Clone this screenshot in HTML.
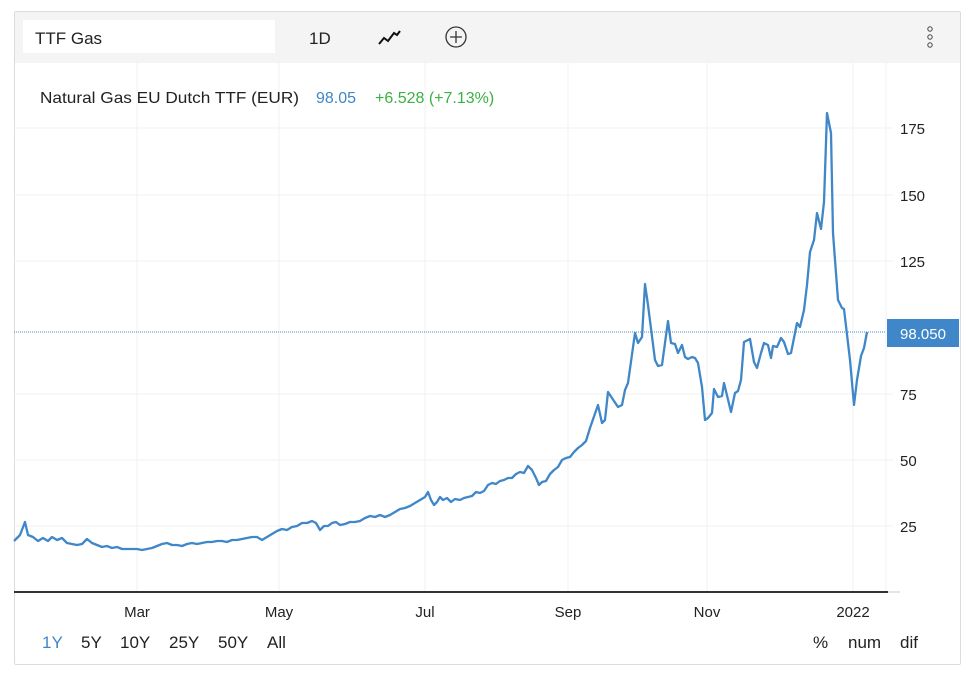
<!DOCTYPE html>
<html><head><meta charset="utf-8"><style>
body{margin:0;background:#fff;width:975px;height:677px;overflow:hidden;font-family:"Liberation Sans",sans-serif;}
.card{position:absolute;left:14px;top:11px;width:947px;height:654px;border:1px solid #dcdcdc;box-sizing:border-box;border-radius:2px;}
.bar{position:absolute;left:0;top:0;width:945px;height:51px;background:#f4f4f4;}
.t{position:absolute;font-size:16px;color:#222;white-space:nowrap;}
</style></head><body>
<div class="card"><div class="bar">
<div style="position:absolute;left:8px;top:8px;width:252px;height:33px;background:#fff"></div>
</div></div>
<div class="t" style="left:35px;top:29px;font-size:17px">TTF Gas</div>
<div class="t" style="left:309px;top:29px;font-size:17px">1D</div>
<svg style="position:absolute;left:0;top:0" width="975" height="677">
<polyline points="379,44 384,38 388,41 394,33 397,35 400,31" fill="none" stroke="#111" stroke-width="2"/>
<circle cx="456" cy="37" r="10" fill="none" stroke="#333" stroke-width="1.3"/>
<path d="M456 31v12M450 37h12" stroke="#333" stroke-width="1.3"/>
<circle cx="930" cy="29" r="2.2" fill="none" stroke="#444"/><circle cx="930" cy="37" r="2.2" fill="none" stroke="#444"/><circle cx="930" cy="45" r="2.2" fill="none" stroke="#444"/>
<g stroke="#f0f0f3" stroke-width="1">
<line x1="137" y1="62" x2="137" y2="592"/><line x1="279" y1="62" x2="279" y2="592"/><line x1="425" y1="62" x2="425" y2="592"/><line x1="568" y1="62" x2="568" y2="592"/><line x1="707" y1="62" x2="707" y2="592"/><line x1="853" y1="62" x2="853" y2="592"/><line x1="886" y1="62" x2="886" y2="592"/>
<line x1="14" y1="128" x2="893" y2="128"/><line x1="14" y1="195" x2="893" y2="195"/><line x1="14" y1="261" x2="893" y2="261"/><line x1="14" y1="394" x2="893" y2="394"/><line x1="14" y1="460" x2="893" y2="460"/><line x1="14" y1="526" x2="893" y2="526"/>
</g>
<line x1="14" y1="592" x2="888" y2="592" stroke="#333" stroke-width="2"/>
<line x1="888" y1="592" x2="900" y2="592" stroke="#e5e5e5" stroke-width="2"/>
<line x1="14" y1="332" x2="886" y2="332" stroke="#4a88c7" stroke-width="1" stroke-dasharray="1,1"/>
<polyline fill="none" stroke="#3f87c8" stroke-width="2.3" stroke-linejoin="round" points="14,541 20,535 25,522 28,535 33,537 38,541 43,538 48,541 52,537 57,540 62,538 67,543 72,544 77,545 82,544 87,539 92,543 97,545 102,547 107,546 112,548 117,547 122,549 127,549 132,549 137,549 142,550 147,549 152,548 157,546 162,544 167,543 172,545 177,545 182,546 187,544 192,543 197,544 202,543 207,542 212,542 217,541 222,541 227,542 232,540 237,540 242,539 247,538 252,537 257,537 262,540 267,537 272,534 277,531 282,529 287,530 292,527 297,526 302,523 307,523 312,521 316,523 320,530 324,526 328,526 332,523 336,522 340,525 345,524 350,522 355,522 360,521 365,518 370,516 375,517 380,515 385,517 390,515 395,512 400,509 405,508 410,506 415,503 420,500 425,497 428,492 431,500 434,505 437,502 440,497 443,500 447,498 451,502 455,499 460,500 464,498 468,497 472,496 476,492 480,493 484,491 488,485 492,483 496,484 500,481 504,480 508,478 512,478 516,474 520,472 524,473 528,466 532,470 536,478 539,485 542,482 546,481 550,474 554,470 558,467 562,460 566,458 570,457 574,452 578,448 582,445 586,441 590,428 598,405 602,423 605,420 608,392 618,407 622,405 625,390 628,383 635,333 638,343 642,337 645,284 648,305 655,360 658,366 662,365 668,321 671,343 675,344 678,353 682,345 685,357 688,359 692,357 695,358 698,363 702,387 705,420 708,418 712,413 714,389 718,397 722,396 724,383 731,412 735,393 738,391 741,380 744,342 750,339 754,362 757,368 761,353 764,343 768,345 771,358 773,346 777,347 781,338 784,342 788,354 791,353 797,323 800,327 804,310 807,285 810,252 814,240 817,213 821,229 824,202 827,113 831,133 833,233 838,300 842,308 844,309 850,360 854,405 857,380 861,356 864,348 867,332"/>
<rect x="887" y="319" width="72" height="28" fill="#3f87c8"/>
<text x="923" y="339" fill="#fff" font-size="15" text-anchor="middle" font-family="Liberation Sans">98.050</text>
<g font-family="Liberation Sans" font-size="15" fill="#222">
<text x="900" y="134">175</text><text x="900" y="201">150</text><text x="900" y="267">125</text><text x="900" y="400">75</text><text x="900" y="466">50</text><text x="900" y="532">25</text>
<text x="137" y="617" text-anchor="middle">Mar</text><text x="279" y="617" text-anchor="middle">May</text><text x="425" y="617" text-anchor="middle">Jul</text><text x="568" y="617" text-anchor="middle">Sep</text><text x="707" y="617" text-anchor="middle">Nov</text><text x="853" y="617" text-anchor="middle">2022</text>
</g>
<g font-family="Liberation Sans" font-size="17" fill="#222">
<text x="42" y="648" fill="#3f87c8">1Y</text><text x="81" y="648">5Y</text><text x="120" y="648">10Y</text><text x="169" y="648">25Y</text><text x="218" y="648">50Y</text><text x="267" y="648">All</text>
<text x="813" y="648">%</text><text x="848" y="648">num</text><text x="900" y="648">dif</text>
</g>
<g font-family="Liberation Sans" font-size="16">
<text x="40" y="103" fill="#222" textLength="259" lengthAdjust="spacingAndGlyphs">Natural Gas EU Dutch TTF (EUR)</text>
<text x="316" y="103" fill="#3f87c8">98.05</text>
<text x="375" y="103" fill="#3cb043">+6.528 (+7.13%)</text>
</g>
</svg>
</body></html>
